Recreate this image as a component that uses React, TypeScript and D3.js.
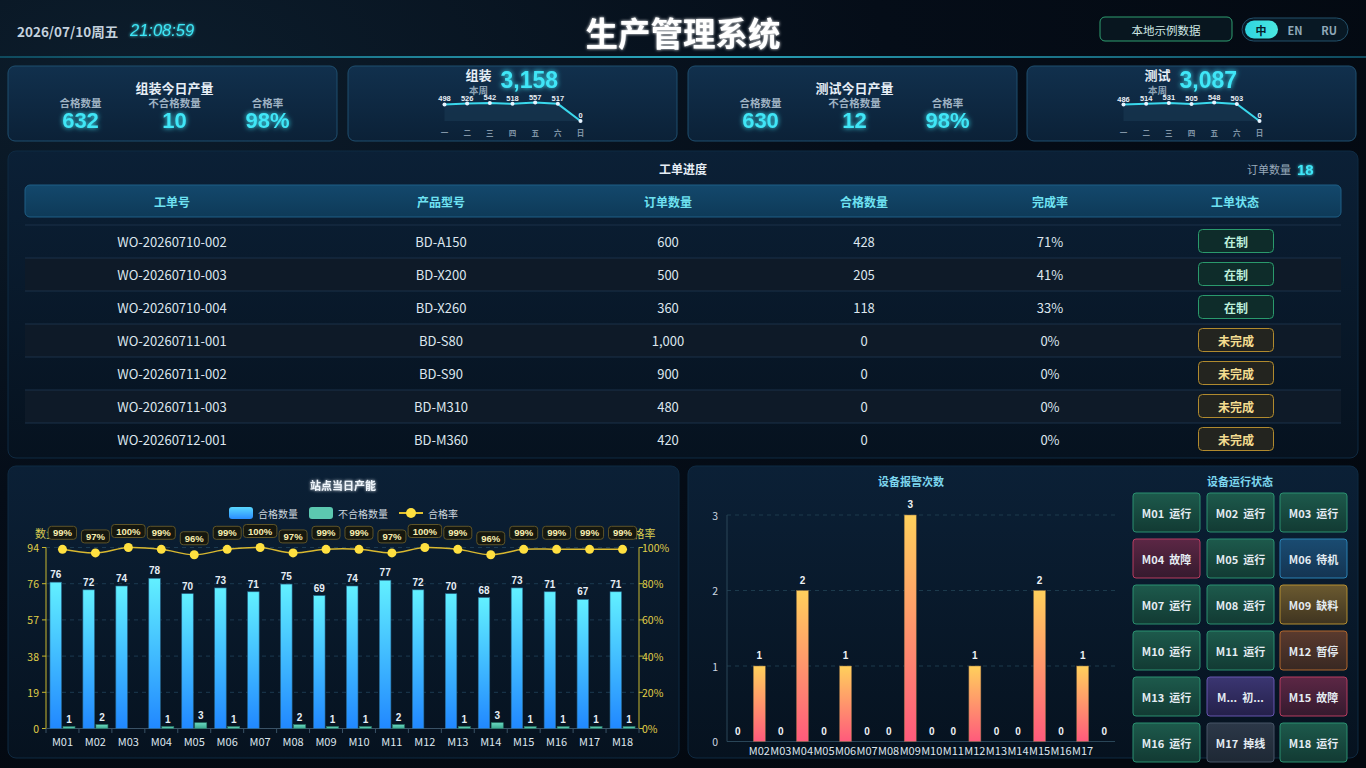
import React from 'react';
import * as d3 from 'd3';

const W = 1366;
const H = 768;
const FONT = '"Noto Sans CJK SC", "Noto Sans", sans-serif';
const NUM = '"Liberation Sans", Arial, sans-serif';

// ---------- data ----------
const headerDate = '2026/07/10周五';
const headerTime = '21:08:59';
const pageTitle = '生产管理系统';
const dataSourceLabel = '本地示例数据';
const languages = ['中', 'EN', 'RU'];

const todayLabels = ['合格数量', '不合格数量', '合格率'];
const assemblyToday = ['632', '10', '98%'];
const testToday = ['630', '12', '98%'];

const weekDays = ['一', '二', '三', '四', '五', '六', '日'];
const assemblyWeek = [498, 526, 542, 518, 557, 517, 0];
const testWeek = [486, 514, 531, 505, 548, 503, 0];

const tableColumns = ['工单号', '产品型号', '订单数量', '合格数量', '完成率', '工单状态'];
const orderIds = ['WO-20260710-002', 'WO-20260710-003', 'WO-20260710-004', 'WO-20260711-001', 'WO-20260711-002', 'WO-20260711-003', 'WO-20260712-001'];
const productModels = ['BD-A150', 'BD-X200', 'BD-X260', 'BD-S80', 'BD-S90', 'BD-M310', 'BD-M360'];
const orderQty = [600, 500, 360, 1000, 900, 480, 420];
const qualifiedQty = [428, 205, 118, 0, 0, 0, 0];
const completionRate = [71, 41, 33, 0, 0, 0, 0];
const orderStatus = ['在制', '在制', '在制', '未完成', '未完成', '未完成', '未完成'];
const orderCount = 18;

const stations = ['M01', 'M02', 'M03', 'M04', 'M05', 'M06', 'M07', 'M08', 'M09', 'M10', 'M11', 'M12', 'M13', 'M14', 'M15', 'M16', 'M17', 'M18'];
const passQty = [76, 72, 74, 78, 70, 73, 71, 75, 69, 74, 77, 72, 70, 68, 73, 71, 67, 71];
const failQty = [1, 2, 0, 1, 3, 1, 0, 2, 1, 1, 2, 0, 1, 3, 1, 1, 1, 1];
const passRate = [99, 97, 100, 99, 96, 99, 100, 97, 99, 99, 97, 100, 99, 96, 99, 99, 99, 99];
const qtyAxisMax = 94;

const alarmCounts = [0, 1, 0, 2, 0, 1, 0, 0, 3, 0, 0, 1, 0, 0, 2, 0, 1, 0];
const deviceStatus = ['运行', '运行', '运行', '故障', '运行', '待机', '运行', '运行', '缺料', '运行', '运行', '暂停', '运行', '初始化', '故障', '运行', '掉线', '运行'];

// ---------- styles ----------
const statusStyle: Record<string, { a: string; b: string; s: string }> = {
  运行: { a: '#1d5a4c', b: '#123a33', s: '#2a9070' },
  故障: { a: '#5c2745', b: '#351a2e', s: '#b83c60' },
  待机: { a: '#1a4c72', b: '#143452', s: '#2b82b4' },
  缺料: { a: '#6b5a30', b: '#3f3420', s: '#b48e30' },
  暂停: { a: '#5a3a2e', b: '#382822', s: '#b0662c' },
  初始化: { a: '#3b3672', b: '#24204a', s: '#6656b0' },
  掉线: { a: '#2c3848', b: '#1e2835', s: '#465567' },
};
const badgeStyle: Record<string, { f: string; s: string; t: string }> = {
  在制: { f: '#0e2c2a', s: '#2a9a6c', t: '#bdf0dc' },
  未完成: { f: '#23241f', s: '#b08a2e', t: '#f4dc90' },
};

function TopStatCard({ x, title, values }: { x: number; title: string; values: string[] }) {
  const w = 329;
  const cx = x + w / 2;
  const offs = [-92, 2, 95];
  return (
    <g>
      <rect x={x} y={66} width={w} height={75} rx={7} fill="url(#cardGrad)" stroke="#1f4e6e" />
      <text x={cx + 2} y={87} textAnchor="middle" dominantBaseline="central" fill="#e6eef6" fontSize={13} fontWeight="bold">{title}</text>
      {todayLabels.map((l, i) => (
        <text key={l} x={cx + offs[i]} y={102.5} textAnchor="middle" dominantBaseline="central" fill="#9fb3c4" fontSize={10.5} fontWeight="bold">{l}</text>
      ))}
      {values.map((v, i) => (
        <text key={i} x={cx + offs[i]} y={120.5} textAnchor="middle" dominantBaseline="central" fill="#3fe6f7" fontSize={22} fontWeight="bold" fontFamily={NUM} filter="url(#glow)">{v}</text>
      ))}
    </g>
  );
}

function WeekCard({ x, label, values }: { x: number; label: string; values: number[] }) {
  const w = 329;
  const cx = x + w / 2;
  const xs = d3.scalePoint<string>().domain(weekDays).range([cx - 68, cx + 68]);
  const ys = d3.scaleLinear().domain([0, d3.max(values) as number]).range([121, 102.5]);
  const line = d3.line<number>().x((_, i) => xs(weekDays[i]) as number).y((d) => ys(d));
  const area = d3.area<number>().x((_, i) => xs(weekDays[i]) as number).y0(121).y1((d) => ys(d));
  const total = d3.format(',')(d3.sum(values));
  return (
    <g>
      <rect x={x} y={66} width={w} height={75} rx={7} fill="url(#cardGrad)" stroke="#1f4e6e" />
      <text x={cx - 34} y={74.5} textAnchor="middle" dominantBaseline="central" fill="#e6eef6" fontSize={13} fontWeight="bold">{label}</text>
      <text x={cx - 34} y={89.5} textAnchor="middle" dominantBaseline="central" fill="#8ea4b6" fontSize={9.5} fontWeight="bold">本周</text>
      <text x={cx - 12} y={80} dominantBaseline="central" fill="#3fe6f7" fontSize={23} fontWeight="bold" fontFamily={NUM} filter="url(#glow)">{total}</text>
      <path d={area(values) as string} fill="#17344e" opacity={0.8} />
      <path d={line(values) as string} fill="none" stroke="#3ad8ec" strokeWidth={2} />
      {values.map((v, i) => (
        <g key={i}>
          <circle cx={xs(weekDays[i])} cy={ys(v)} r={2} fill="#e8f4ff" />
          <text x={xs(weekDays[i])} y={ys(v) - 3} textAnchor="middle" fill="#e8eef4" fontSize={7.5} fontWeight="bold" fontFamily={NUM}>{v}</text>
        </g>
      ))}
      {weekDays.map((d) => (
        <text key={d} x={xs(d)} y={132} textAnchor="middle" dominantBaseline="central" fill="#8296a8" fontSize={7.5} fontWeight="bold">{d}</text>
      ))}
    </g>
  );
}

export default function App() {
  // table
  const colCenters = [172, 441, 668, 864, 1050, 1235];
  const rowY = d3.scaleBand<number>().domain(d3.range(orderIds.length)).range([225, 225 + 33 * orderIds.length]);

  // station chart
  const xL = d3.scaleBand<string>().domain(stations).range([46, 639]);
  const yL = d3.scaleLinear().domain([0, qtyAxisMax]).range([728.5, 547.5]);
  const yR = d3.scaleLinear().domain([0, 100]).range([728.5, 547.5]);
  const leftTicks = d3.range(6).map((i) => (i * qtyAxisMax) / 5);
  const rightTicks = d3.range(6).map((i) => i * 20);
  const cL = (s: string) => (xL(s) as number) + xL.bandwidth() / 2;
  const rateLine = d3
    .line<number>()
    .x((_, i) => cL(stations[i]))
    .y((d) => yR(d))
    .curve(d3.curveCatmullRom.alpha(0.5));

  // alarm chart
  const xA = d3.scaleBand<string>().domain(stations).range([727, 1115]);
  const yA = d3.scaleLinear().domain([0, 3]).range([741.5, 515]);
  const cA = (s: string) => (xA(s) as number) + xA.bandwidth() / 2;

  // device grid
  const colX = [1133, 1207, 1280];
  const rowStart = 493;

  return (
    <div style={{ position: 'fixed', left: 0, top: 0, width: W, height: H, overflow: 'hidden', background: '#040a12' }}>
      <svg width={W} height={H} style={{ display: 'block', fontFamily: FONT }}>
        <defs>
          <radialGradient id="bgGrad" cx="0.1" cy="0.1" r="1.1">
            <stop offset="0" stopColor="#0c1d2c" />
            <stop offset="0.5" stopColor="#050d18" />
            <stop offset="1" stopColor="#03080f" />
          </radialGradient>
          <linearGradient id="headLine" x1="0" x2="1">
            <stop offset="0" stopColor="#0f4a5e" />
            <stop offset="0.5" stopColor="#2aa6bc" />
            <stop offset="1" stopColor="#0f4a5e" />
          </linearGradient>
          <linearGradient id="cardGrad" x1="0" x2="0" y1="0" y2="1">
            <stop offset="0" stopColor="#11304d" />
            <stop offset="1" stopColor="#0b2137" />
          </linearGradient>
          <linearGradient id="panelGrad" x1="0" x2="0" y1="0" y2="1">
            <stop offset="0" stopColor="#0b2036" />
            <stop offset="1" stopColor="#06121f" />
          </linearGradient>
          <linearGradient id="thGrad" x1="0" x2="0" y1="0" y2="1">
            <stop offset="0" stopColor="#13486c" />
            <stop offset="1" stopColor="#0e3a58" />
          </linearGradient>
          <linearGradient id="langActive" x1="0" x2="1">
            <stop offset="0" stopColor="#2fd4e0" />
            <stop offset="1" stopColor="#4ae8e0" />
          </linearGradient>
          <linearGradient id="passGrad" x1="0" x2="0" y1="0" y2="1">
            <stop offset="0" stopColor="#62f0ff" />
            <stop offset="1" stopColor="#2188ff" />
          </linearGradient>
          <linearGradient id="failGrad" x1="0" x2="0" y1="0" y2="1">
            <stop offset="0" stopColor="#6ad8c0" />
            <stop offset="1" stopColor="#3aa890" />
          </linearGradient>
          <linearGradient id="legPass" x1="0" x2="0" y1="0" y2="1">
            <stop offset="0" stopColor="#5ad8ff" />
            <stop offset="1" stopColor="#2a8cff" />
          </linearGradient>
          <linearGradient id="alarmGrad" x1="0" x2="0" y1="0" y2="1">
            <stop offset="0" stopColor="#ffd05c" />
            <stop offset="1" stopColor="#ff5a7c" />
          </linearGradient>
          {Object.entries(statusStyle).map(([k, v], i) => (
            <linearGradient key={k} id={`st${i}`} x1="0" x2="0" y1="0" y2="1">
              <stop offset="0" stopColor={v.a} />
              <stop offset="1" stopColor={v.b} />
            </linearGradient>
          ))}
          <filter id="glow" x="-30%" y="-50%" width="160%" height="200%">
            <feGaussianBlur in="SourceGraphic" stdDeviation="2.5" result="b" />
            <feMerge>
              <feMergeNode in="b" />
              <feMergeNode in="SourceGraphic" />
            </feMerge>
          </filter>
          <filter id="softGlow" x="-30%" y="-50%" width="160%" height="200%">
            <feGaussianBlur in="SourceGraphic" stdDeviation="1.5" result="b" />
            <feMerge>
              <feMergeNode in="b" />
              <feMergeNode in="SourceGraphic" />
            </feMerge>
          </filter>
        </defs>

        <rect width={W} height={H} fill="url(#bgGrad)" />

        {/* header */}
        <rect x={0} y={56} width={W} height={2} fill="url(#headLine)" />
        <text x={17} y={31} dominantBaseline="central" fill="#c4d2de" fontSize={13.5} fontWeight="bold">{headerDate}</text>
        <text x={130} y={30} dominantBaseline="central" fill="#3ee6f6" fontSize={16.5} fontStyle="italic" fontFamily={NUM} filter="url(#softGlow)">{headerTime}</text>
        <text x={683} y={31} textAnchor="middle" dominantBaseline="central" fill="#ffffff" fontSize={32.5} fontWeight="bold" filter="url(#softGlow)">{pageTitle}</text>
        <rect x={1100} y={17} width={132} height={24} rx={5} fill="#08161f" stroke="#2e9e70" />
        <text x={1166} y={29.5} textAnchor="middle" dominantBaseline="central" fill="#cfe8e4" fontSize={11.5}>{dataSourceLabel}</text>
        <rect x={1242} y={18} width={106} height={23} rx={11.5} fill="#081824" stroke="#23506a" />
        {languages.map((l, i) => {
          const cx = [1261, 1295, 1329][i];
          return (
            <g key={l}>
              {i === 0 && <rect x={1245} y={20.5} width={33} height={18} rx={9} fill="url(#langActive)" />}
              <text x={cx} y={30} textAnchor="middle" dominantBaseline="central" fill={i === 0 ? '#06202a' : '#90a8b8'} fontSize={11} fontWeight="bold">{l}</text>
            </g>
          );
        })}

        {/* top cards */}
        <TopStatCard x={8} title="组装今日产量" values={assemblyToday} />
        <WeekCard x={348} label="组装" values={assemblyWeek} />
        <TopStatCard x={688} title="测试今日产量" values={testToday} />
        <WeekCard x={1027} label="测试" values={testWeek} />

        {/* table panel */}
        <rect x={8} y={151} width={1350} height={307} rx={8} fill="url(#panelGrad)" stroke="#0f2a42" />
        <text x={683} y={168} textAnchor="middle" dominantBaseline="central" fill="#e6eef6" fontSize={12} fontWeight="bold">工单进度</text>
        <text x={1291} y={169} textAnchor="end" dominantBaseline="central" fill="#98aaba" fontSize={11}>订单数量</text>
        <text x={1297} y={169} dominantBaseline="central" fill="#3fe6f7" fontSize={15} fontWeight="bold" fontFamily={NUM} filter="url(#softGlow)">{orderCount}</text>
        <rect x={25} y={185} width={1316} height={32} rx={5} fill="url(#thGrad)" stroke="#1f5f86" />
        {tableColumns.map((c, i) => (
          <text key={c} x={colCenters[i]} y={201} textAnchor="middle" dominantBaseline="central" fill="#6fe2f2" fontSize={12} fontWeight="bold">{c}</text>
        ))}
        {orderIds.map((id, i) => {
          const y0 = rowY(i) as number;
          const yc = y0 + 16;
          const bs = badgeStyle[orderStatus[i]];
          return (
            <g key={id}>
              {i % 2 === 1 && <rect x={25} y={y0} width={1316} height={33} fill="#0e1a28" />}
              <line x1={25} x2={1341} y1={y0} y2={y0} stroke="#1a3048" />
              <text x={colCenters[0]} y={yc} textAnchor="middle" dominantBaseline="central" fill="#dde6ee" fontSize={13}>{id}</text>
              <text x={colCenters[1]} y={yc} textAnchor="middle" dominantBaseline="central" fill="#dde6ee" fontSize={13}>{productModels[i]}</text>
              <text x={colCenters[2]} y={yc} textAnchor="middle" dominantBaseline="central" fill="#dde6ee" fontSize={13}>{d3.format(',')(orderQty[i])}</text>
              <text x={colCenters[3]} y={yc} textAnchor="middle" dominantBaseline="central" fill="#dde6ee" fontSize={13}>{qualifiedQty[i]}</text>
              <text x={colCenters[4]} y={yc} textAnchor="middle" dominantBaseline="central" fill="#dde6ee" fontSize={13}>{completionRate[i]}%</text>
              <rect x={1198.5} y={yc - 11.5} width={75} height={23} rx={4} fill={bs.f} stroke={bs.s} />
              <text x={1236} y={yc} textAnchor="middle" dominantBaseline="central" fill={bs.t} fontSize={12} fontWeight="bold">{orderStatus[i]}</text>
            </g>
          );
        })}

        {/* station chart panel */}
        <rect x={8} y={466} width={671} height={292} rx={8} fill="url(#panelGrad)" stroke="#0f2a42" />
        <text x={343} y={485} textAnchor="middle" dominantBaseline="central" fill="#eef4fa" fontSize={11} fontWeight="bold" filter="url(#softGlow)">站点当日产能</text>
        {/* legend */}
        <rect x={229} y={507} width={24} height={12} rx={3} fill="url(#legPass)" />
        <text x={258} y={513} dominantBaseline="central" fill="#cdd6de" fontSize={10}>合格数量</text>
        <rect x={309} y={507} width={24} height={12} rx={3} fill="#5cc8b0" />
        <text x={338} y={513} dominantBaseline="central" fill="#cdd6de" fontSize={10}>不合格数量</text>
        <line x1={399} x2={423} y1={513} y2={513} stroke="#e0c030" strokeWidth={2} />
        <circle cx={411} cy={513} r={5} fill="#ffe040" />
        <text x={428} y={513} dominantBaseline="central" fill="#cdd6de" fontSize={10}>合格率</text>

        {/* grid */}
        {leftTicks.slice(1).map((t) => (
          <line key={t} x1={46} x2={639} y1={yL(t)} y2={yL(t)} stroke="#1c3a50" strokeDasharray="4 4" />
        ))}
        {/* axis names */}
        <text x={46} y={533} textAnchor="middle" dominantBaseline="central" fill="#d8cc50" fontSize={11}>数量</text>
        <text x={639} y={533} textAnchor="middle" dominantBaseline="central" fill="#d8cc50" fontSize={11}>合格率</text>
        {/* left axis */}
        <line x1={46} x2={46} y1={547.5} y2={728.5} stroke="#c8b830" />
        {leftTicks.map((t) => (
          <g key={t}>
            <line x1={42} x2={46} y1={yL(t)} y2={yL(t)} stroke="#c8b830" />
            <text x={39} y={yL(t)} textAnchor="end" dominantBaseline="central" fill="#e0d048" fontSize={10.5}>{Math.ceil(t)}</text>
          </g>
        ))}
        {/* right axis */}
        <line x1={639} x2={639} y1={547.5} y2={728.5} stroke="#c8b830" />
        {rightTicks.map((t) => (
          <g key={t}>
            <line x1={639} x2={643} y1={yR(t)} y2={yR(t)} stroke="#c8b830" />
            <text x={642} y={yR(t)} dominantBaseline="central" fill="#e0d048" fontSize={10.5}>{t}%</text>
          </g>
        ))}
        {/* x axis */}
        <line x1={46} x2={639} y1={728.5} y2={728.5} stroke="#3a5266" />
        {stations.map((s, i) => (
          <g key={s}>
            <line x1={xL(s)} x2={xL(s)} y1={728.5} y2={733} stroke="#3a5266" />
            {i === stations.length - 1 && <line x1={639} x2={639} y1={728.5} y2={733} stroke="#3a5266" />}
            <text x={cL(s)} y={741} textAnchor="middle" dominantBaseline="central" fill="#dde6ee" fontSize={11}>{s}</text>
          </g>
        ))}
        {/* bars */}
        {stations.map((s, i) => {
          const c = cL(s);
          return (
            <g key={s}>
              <rect x={c - 12.5} y={yL(passQty[i])} width={11.5} height={yL(0) - yL(passQty[i])} fill="url(#passGrad)" stroke="#2a6a90" strokeWidth={0.6} />
              <text x={c - 6.75} y={yL(passQty[i]) - 4} textAnchor="middle" fill="#e6eef6" fontSize={10} fontWeight="bold" fontFamily={NUM}>{passQty[i]}</text>
              {failQty[i] > 0 && (
                <>
                  <rect x={c + 0.5} y={yL(failQty[i])} width={12} height={yL(0) - yL(failQty[i])} fill="url(#failGrad)" stroke="#2a7a6a" strokeWidth={0.6} />
                  <text x={c + 6.5} y={yL(failQty[i]) - 4} textAnchor="middle" fill="#e6eef6" fontSize={10} fontWeight="bold" fontFamily={NUM}>{failQty[i]}</text>
                </>
              )}
            </g>
          );
        })}
        {/* rate line */}
        <path d={rateLine(passRate) as string} fill="none" stroke="#d8b830" strokeWidth={1.5} />
        {passRate.map((r, i) => {
          const c = cL(stations[i]);
          const y = yR(r);
          const label = `${r}%`;
          const bw = label.length * 5.5 + 11.5;
          return (
            <g key={i}>
              <circle cx={c} cy={y} r={4.5} fill="#ffe040" />
              <rect x={c - bw / 2} y={y - 23} width={bw} height={13} rx={3} fill="#15170f" stroke="#5e5428" />
              <text x={c} y={y - 16.5} textAnchor="middle" dominantBaseline="central" fill="#f8eeb0" fontSize={9.5} fontWeight="bold" fontFamily={NUM}>{label}</text>
            </g>
          );
        })}

        {/* right bottom panel */}
        <rect x={688} y={466} width={670} height={292} rx={8} fill="url(#panelGrad)" stroke="#0f2a42" />
        <text x={911} y={481} textAnchor="middle" dominantBaseline="central" fill="#7cd6ee" fontSize={11} fontWeight="bold">设备报警次数</text>
        {[1, 2, 3].map((t) => (
          <line key={t} x1={727} x2={1115} y1={yA(t)} y2={yA(t)} stroke="#1c3a4c" strokeDasharray="4 4" />
        ))}
        <line x1={727} x2={727} y1={515} y2={741.5} stroke="#2a4658" />
        <line x1={727} x2={1115} y1={741.5} y2={741.5} stroke="#2a4658" />
        {[0, 1, 2, 3].map((t) => (
          <text key={t} x={718} y={yA(t)} textAnchor="end" dominantBaseline="central" fill="#ccd6e0" fontSize={10.5}>{t}</text>
        ))}
        {stations.map((s, i) => {
          const c = cA(s);
          const v = alarmCounts[i];
          return (
            <g key={s}>
              {v > 0 && <rect x={c - 6} y={yA(v)} width={12} height={yA(0) - yA(v)} fill="url(#alarmGrad)" stroke="#8a6a40" strokeWidth={0.5} />}
              <text x={c} y={yA(v) - 7} textAnchor="middle" fill="#eef2f6" fontSize={10} fontWeight="bold" fontFamily={NUM}>{v}</text>
              {i > 0 && i < stations.length - 1 && (
                <text x={c} y={750} textAnchor="middle" dominantBaseline="central" fill="#dde6ee" fontSize={11}>{s}</text>
              )}
            </g>
          );
        })}

        {/* device status */}
        <text x={1240} y={481} textAnchor="middle" dominantBaseline="central" fill="#7cd6ee" fontSize={11} fontWeight="bold">设备运行状态</text>
        {stations.map((s, i) => {
          const st = deviceStatus[i];
          const keys = Object.keys(statusStyle);
          const gi = keys.indexOf(st);
          const sty = statusStyle[st];
          const x = colX[i % 3];
          const y = rowStart + Math.floor(i / 3) * 46;
          const label = st.length > 2 ? `M...  ${st[0]}...` : `${s}  ${st}`;
          return (
            <g key={s}>
              <rect x={x} y={y} width={67} height={39} rx={3} fill={`url(#st${gi})`} stroke={sty.s} />
              <text x={x + 33.5} y={y + 19.5} textAnchor="middle" dominantBaseline="central" fill="#e4ecf2" fontSize={11} fontWeight="bold" style={{ whiteSpace: 'pre' }}>{label}</text>
            </g>
          );
        })}
      </svg>
    </div>
  );
}
